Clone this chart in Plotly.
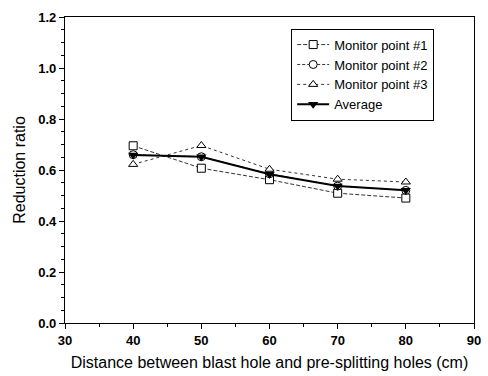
import plotly.graph_objects as go

x = [40, 50, 60, 70, 80]
mp1 = [0.695, 0.607, 0.562, 0.509, 0.490]
mp2 = [0.660, 0.652, 0.585, 0.537, 0.520]
mp3 = [0.622, 0.696, 0.603, 0.564, 0.553]
avg = [0.659, 0.652, 0.583, 0.537, 0.521]
xticks = [30, 40, 50, 60, 70, 80, 90]
yticks = [0.0, 0.2, 0.4, 0.6, 0.8, 1.0, 1.2]

FONT = "Liberation Sans, Arial"
fig = go.Figure()
mk = dict(size=8, color="white", line=dict(color="black", width=1))
fig.add_trace(go.Scatter(x=x, y=mp1, name="Monitor point #1", mode="lines+markers",
                         line=dict(color="black", width=0.8, dash="4px,2px"),
                         marker=dict(symbol="square", **mk)))
fig.add_trace(go.Scatter(x=x, y=mp2, name="Monitor point #2", mode="lines+markers",
                         line=dict(color="black", width=0.8, dash="3px,2px"),
                         marker=dict(symbol="circle", **mk)))
fig.add_trace(go.Scatter(x=x, y=mp3, name="Monitor point #3", mode="lines+markers",
                         line=dict(color="black", width=0.8, dash="dot"),
                         marker=dict(symbol="triangle-up", **mk)))
fig.add_trace(go.Scatter(x=x, y=avg, name="Average", mode="lines+markers",
                         line=dict(color="black", width=2),
                         marker=dict(symbol="triangle-down", size=9, color="black")))

axis_common = dict(showline=True, linecolor="black", linewidth=1.3, mirror=True,
                   ticks="outside", ticklen=5, tickwidth=1.2, tickcolor="black", showgrid=False,
                   zeroline=False,
                   tickfont=dict(family=FONT, size=13, color="black", weight="bold"),
                   minor=dict(ticks="outside", ticklen=3, tickcolor="black"))
fig.update_xaxes(range=[30, 90], tickvals=xticks, ticktext=[str(v) for v in xticks],
                 title=dict(text="Distance between blast hole and pre-splitting holes (cm)",
                            font=dict(family=FONT, size=16, color="black"),
                            standoff=10),
                 **axis_common)
fig.update_yaxes(range=[0, 1.2], tickvals=yticks, ticktext=[f"{v:.1f}" for v in yticks],
                 title=dict(text="Reduction ratio",
                            font=dict(family=FONT, size=16, color="black"),
                            standoff=8),
                 **axis_common)
fig.update_layout(width=488, height=376, margin=dict(l=65, r=7, t=17, b=51),
                  plot_bgcolor="white", paper_bgcolor="white",
                  legend=dict(x=0.553, y=0.962, xanchor="left", yanchor="top",
                              bordercolor="black", borderwidth=1, bgcolor="white",
                              font=dict(family=FONT, size=13, color="black"),
                              tracegroupgap=0, itemwidth=32))
fig.write_html("out.html")
